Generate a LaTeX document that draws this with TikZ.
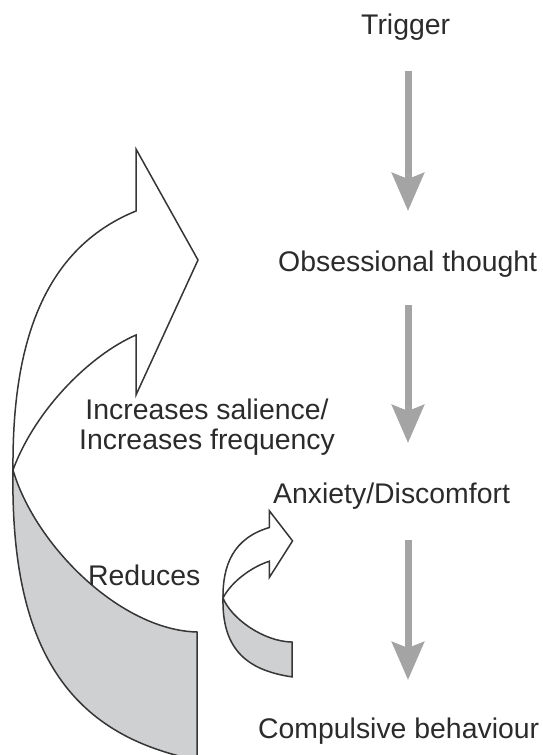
\documentclass[tikz,border=0pt]{standalone}
\usepackage{fontspec}
\setmainfont{Liberation Sans}
\usetikzlibrary{arrows.meta}

\definecolor{ink}{HTML}{2B2B2B}
\definecolor{flowgray}{HTML}{A4A4A4}
\definecolor{backface}{HTML}{CED0D2}
\definecolor{edgeline}{HTML}{363636}

% Curved 3D ribbon arrow: white front face with head, grey underside below
\newcommand{\ribbonarrow}{%
  \filldraw[ribbon, fill=white]
    (136,211) -- (136,149) -- (198,260) -- (136,395) -- (136,335)
    .. controls (90,355) and (35,410) .. (13,470)
    .. controls (12,350) and (40,250) .. (136,211) -- cycle;
  \filldraw[ribbon, fill=backface]
    (13,470) .. controls (10,650) and (70,735) .. (197,760)
    -- (197,632)
    .. controls (120,630) and (35,545) .. (13,470) -- cycle;
}

\begin{document}
\begin{tikzpicture}[x=1pt, y=-1pt,
  lbl/.style={inner sep=0pt, text=ink, font=\fontsize{28.4}{30}\selectfont},
  flow/.style={draw=flowgray, line width=7pt,
    -{Stealth[length=38pt, width=32pt, inset=6pt]}},
  ribbon/.style={draw=edgeline, line width=1.5pt, line join=miter}]

\useasboundingbox (0,0) rectangle (543,755);
\clip (0,0) rectangle (543,755);

% large loop: compulsion back to the obsessional thought
\ribbonarrow

% small loop: compulsion back to the anxiety
\begin{scope}[shift={(223,598)}, xscale=0.376, yscale=0.272, shift={(-13,-470)}]
  \ribbonarrow
\end{scope}

% cycle stages
\node[lbl, anchor=base west] (trigger) at (361,34) {Trigger};
\node[lbl, anchor=base west] (obs) at (278,271) {Obsessional thought};
\node[lbl, anchor=base west] (anx) at (273,503) {Anxiety/Discomfort};
\node[lbl, anchor=base west] (comp) at (258,738) {Compulsive behaviour};

% loop labels
\node[lbl, align=center] (incr) at (207,427) {Increases salience/\\Increases frequency};
\node[lbl, anchor=base west] (red) at (88,585) {Reduces};

% downward flow between stages
\coordinate (f1a) at (408,71);  \coordinate (f1b) at (408,211);
\coordinate (f2a) at (408,305); \coordinate (f2b) at (408,443);
\coordinate (f3a) at (408,540); \coordinate (f3b) at (408,680);
\draw[flow] (f1a) -- (f1b);
\draw[flow] (f2a) -- (f2b);
\draw[flow] (f3a) -- (f3b);

\end{tikzpicture}
\end{document}
